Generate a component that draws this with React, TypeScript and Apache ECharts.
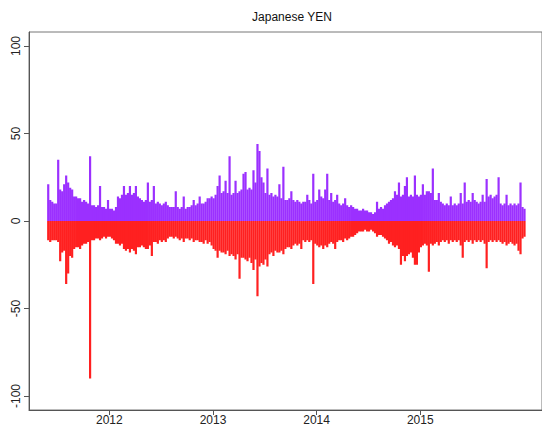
import React, { useEffect, useRef } from "react";
import * as echarts from "echarts";

// Weekly observations starting mid-2011
const startYear = 2011.41;
const weekStep = 1 / 52;

const upValues: number[] = [
  21, 12, 11, 10, 10, 35, 18, 17, 21, 26, 22, 19, 18, 14, 14, 13, 13, 11, 12, 11,
  10, 37, 9, 9, 8, 9, 20, 8, 8, 7, 12, 7, 7, 6, 8, 14, 13, 15, 20, 15,
  16, 20, 15, 16, 20, 14, 13, 12, 11, 12, 22, 11, 12, 20, 10, 11, 10, 9, 10, 11,
  9, 8, 8, 8, 17, 8, 7, 8, 14, 7, 8, 8, 9, 12, 9, 10, 14, 10, 10, 11,
  13, 13, 14, 13, 15, 20, 26, 16, 17, 23, 16, 37, 15, 16, 23, 16, 17, 18, 27, 28,
  18, 19, 18, 29, 22, 44, 40, 25, 22, 16, 30, 15, 16, 14, 15, 14, 21, 13, 31, 12,
  12, 13, 17, 12, 11, 12, 11, 10, 11, 11, 15, 12, 10, 27, 11, 12, 18, 14, 13, 18,
  27, 12, 16, 11, 12, 15, 10, 9, 10, 13, 9, 8, 9, 8, 7, 7, 6, 6, 7, 6,
  6, 5, 5, 4, 5, 11, 7, 8, 7, 9, 10, 11, 12, 13, 17, 15, 22, 14, 15, 20,
  25, 14, 15, 14, 26, 15, 14, 15, 21, 15, 17, 17, 16, 30, 12, 12, 16, 11, 10, 9,
  10, 9, 14, 9, 10, 9, 10, 16, 10, 22, 11, 12, 11, 16, 12, 11, 10, 11, 15, 11,
  24, 14, 15, 13, 14, 15, 25, 10, 9, 10, 15, 9, 10, 9, 10, 9, 10, 22, 8, 7,
];

const downValues: number[] = [
  -11, -12, -11, -11, -11, -12, -23, -18, -17, -36, -30, -20, -21, -16, -15, -15, -16, -14, -13, -13,
  -12, -90, -11, -11, -10, -10, -11, -10, -9, -10, -9, -9, -10, -11, -13, -13, -14, -13, -16, -17,
  -16, -18, -16, -17, -19, -15, -15, -14, -15, -16, -16, -14, -20, -12, -12, -13, -11, -12, -11, -12,
  -10, -9, -9, -10, -9, -10, -11, -10, -12, -10, -10, -11, -10, -12, -11, -11, -12, -12, -13, -11,
  -13, -12, -14, -16, -17, -21, -17, -18, -18, -19, -17, -20, -19, -20, -22, -19, -33, -21, -21, -22,
  -23, -21, -24, -28, -22, -43, -26, -24, -25, -22, -26, -19, -18, -20, -17, -18, -18, -17, -19, -16,
  -15, -15, -16, -14, -13, -14, -13, -16, -11, -12, -11, -12, -11, -36, -13, -14, -15, -14, -16, -14,
  -15, -13, -12, -13, -16, -12, -11, -11, -12, -10, -11, -10, -9, -9, -8, -7, -6, -6, -6, -5,
  -6, -6, -5, -6, -7, -9, -8, -8, -9, -10, -11, -13, -12, -14, -15, -14, -16, -25, -20, -23,
  -20, -19, -18, -21, -25, -25, -18, -15, -14, -13, -14, -29, -13, -14, -13, -12, -14, -12, -11, -12,
  -11, -13, -11, -12, -11, -12, -11, -14, -21, -12, -11, -12, -11, -13, -11, -12, -11, -12, -11, -13,
  -27, -12, -11, -12, -11, -12, -11, -12, -13, -12, -14, -13, -12, -13, -14, -13, -17, -19, -10, -9,
];

const xTicks = [2012, 2013, 2014, 2015];
const yTicks = [-100, -50, 0, 50, 100];
const titleText = "Japanese YEN";

export default function App() {
  const ref = useRef<HTMLDivElement>(null);

  useEffect(() => {
    document.body.style.margin = "0";
    if (!ref.current) return;
    const chart = echarts.init(ref.current, undefined, { renderer: "svg" });
    const up = upValues.map((v, i) => [startYear + i * weekStep, v]);
    const down = downValues.map((v, i) => [startYear + i * weekStep, v]);
    const font = "Liberation Sans, Arial, Helvetica, sans-serif";
    chart.setOption({
      animation: false,
      backgroundColor: "#ffffff",
      title: {
        text: titleText,
        left: 287,
        top: 6,
        textAlign: "center",
        textStyle: { fontSize: 12, fontWeight: "normal", color: "#111", fontFamily: font },
      },
      grid: {
        left: 29,
        top: 32,
        width: 517,
        height: 378,
        show: true,
        borderColor: "#777",
        borderWidth: 1,
        backgroundColor: "transparent",
      },
      xAxis: {
        type: "value",
        min: 2011.2244,
        max: 2016.175,
        splitLine: { show: false },
        axisLine: { show: true, onZero: false, lineStyle: { color: "#555" } },
        axisTick: { show: true, length: 5, customValues: xTicks, lineStyle: { color: "#555" } },
        axisLabel: {
          customValues: xTicks,
          margin: 4,
          fontSize: 12,
          color: "#222",
          fontFamily: font,
          formatter: (v: number) => String(Math.round(v)),
        },
      },
      yAxis: {
        type: "value",
        min: -108,
        max: 108,
        splitLine: { show: false },
        axisLine: { show: true, onZero: false, lineStyle: { color: "#555" } },
        axisTick: { show: true, length: 5, customValues: yTicks, lineStyle: { color: "#555" } },
        axisLabel: {
          customValues: yTicks,
          rotate: 90,
          margin: 7,
          fontSize: 12,
          color: "#222",
          fontFamily: font,
        },
      },
      series: [
        {
          type: "bar",
          data: up,
          barWidth: 2.2,
          barGap: "-100%",
          itemStyle: { color: "#9B30FF" },
        },
        {
          type: "bar",
          data: down,
          barWidth: 2.2,
          barGap: "-100%",
          itemStyle: { color: "#FF2020" },
        },
      ],
    });
    return () => chart.dispose();
  }, []);

  return <div ref={ref} style={{ width: 542, height: 431 }} />;
}
